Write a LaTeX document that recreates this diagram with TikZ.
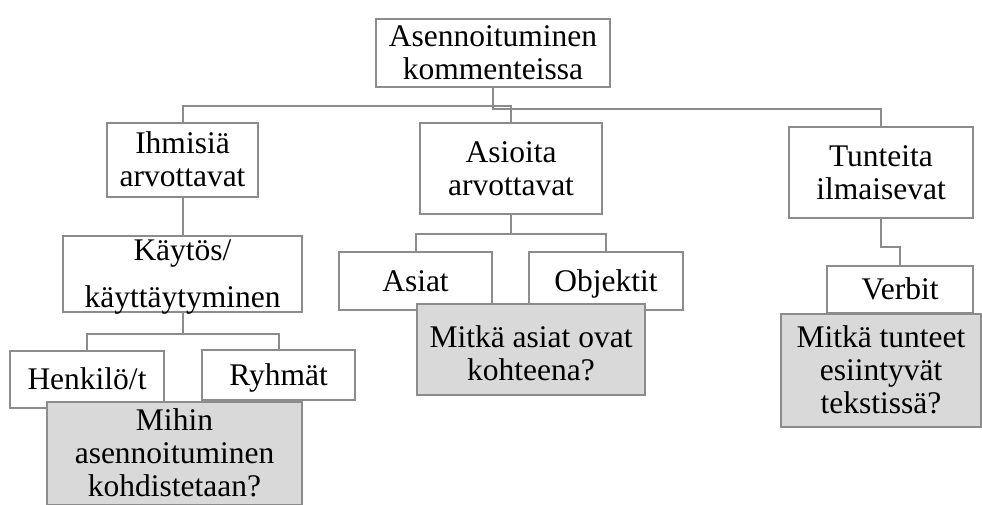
\documentclass[tikz,border=0pt]{standalone}
\usepackage{fontspec}
\setmainfont{Liberation Serif}
\definecolor{linegray}{RGB}{140,140,140}
\definecolor{boxfill}{RGB}{217,217,217}
\newcommand\boxlines[1]{\begin{tabular}[t]{@{}c@{}}#1\end{tabular}}
\begin{document}
\begin{tikzpicture}[x=1pt,y=-1pt,
  box/.style={draw=linegray, line width=2pt, fill=white, inner sep=0pt,
    font=\fontsize{31.5}{33}\selectfont},
  graybox/.style={box, fill=boxfill},
  oneline/.style={text height=20pt, text depth=0pt},
  twolines/.style={text height=0pt, text depth=13pt},
  threelines/.style={text height=0pt, text depth=46pt},
  conn/.style={draw=linegray, line width=2pt}]
\fill[white] (0,0) rectangle (982,504);
\useasboundingbox (0,0) rectangle (982,504);

% top levels
\node[box, twolines, minimum width=234pt, minimum height=68pt] (root) at (493,52.5) {\boxlines{Asennoituminen\\kommenteissa}};
\node[box, twolines, minimum width=151pt, minimum height=74pt] (ihm) at (182.5,160) {\boxlines{Ihmisiä\\arvottavat}};
\node[box, twolines, minimum width=182pt, minimum height=91pt] (asioita) at (511,168.5) {\boxlines{Asioita\\arvottavat}};
\node[box, twolines, minimum width=184pt, minimum height=91pt] (tunteita) at (881,172.5) {\boxlines{Tunteita\\ilmaisevat}};

% connectors from root
\draw[conn] (root.south) -- ++(0,18) -| (ihm.north);
\draw[conn] (root.south) -- ++(0,18) -| (asioita.north);
\draw[conn] (root.south) -- ++(0,21) -| (tunteita.north);

% left branch
\node[box, text height=0pt, text depth=27pt, minimum width=239pt, minimum height=76pt] (kaytos) at (182.5,274) {\boxlines{Käytös/\\[14pt]käyttäytyminen}};
\draw[conn] (ihm.south) -- (kaytos.north);
\node[box, oneline, minimum width=154pt, minimum height=57pt] (henk) at (87,379.5) {\boxlines{Henkilö/t}};
\node[box, oneline, minimum width=153pt, minimum height=50pt] (ryhmat) at (278.5,375) {\boxlines{Ryhmät}};
\draw[conn] (kaytos.south) -- ++(0,21) -| (henk.north);
\draw[conn] (kaytos.south) -- ++(0,21) -| (ryhmat.north);
\node[graybox, threelines, minimum width=255pt, minimum height=103pt] (mihin) at (174.5,453.5) {\boxlines{Mihin\\asennoituminen\\kohdistetaan?}};

% middle branch
\node[box, oneline, minimum width=153pt, minimum height=58pt] (asiat) at (415.5,281) {\boxlines{Asiat}};
\node[box, oneline, minimum width=154pt, minimum height=58pt] (objektit) at (606,281) {\boxlines{Objektit}};
\draw[conn] (asioita.south) -- ++(0,19) -| (asiat.north);
\draw[conn] (asioita.south) -- ++(0,19) -| (objektit.north);
\node[graybox, text height=0pt, text depth=5pt, minimum width=228pt, minimum height=91pt] (mitka1) at (531,349.5) {\boxlines{Mitkä asiat ovat\\kohteena?}};

% right branch
\node[box, oneline, minimum width=146pt, minimum height=47pt] (verbit) at (900,289.5) {\boxlines{Verbit}};
\draw[conn] (tunteita.south) -- ++(0,28) -| (verbit.north);
\node[graybox, threelines, minimum width=200pt, minimum height=113pt] (mitka2) at (881,370.5) {\boxlines{Mitkä tunteet\\esiintyvät\\tekstissä?}};
\end{tikzpicture}
\end{document}
